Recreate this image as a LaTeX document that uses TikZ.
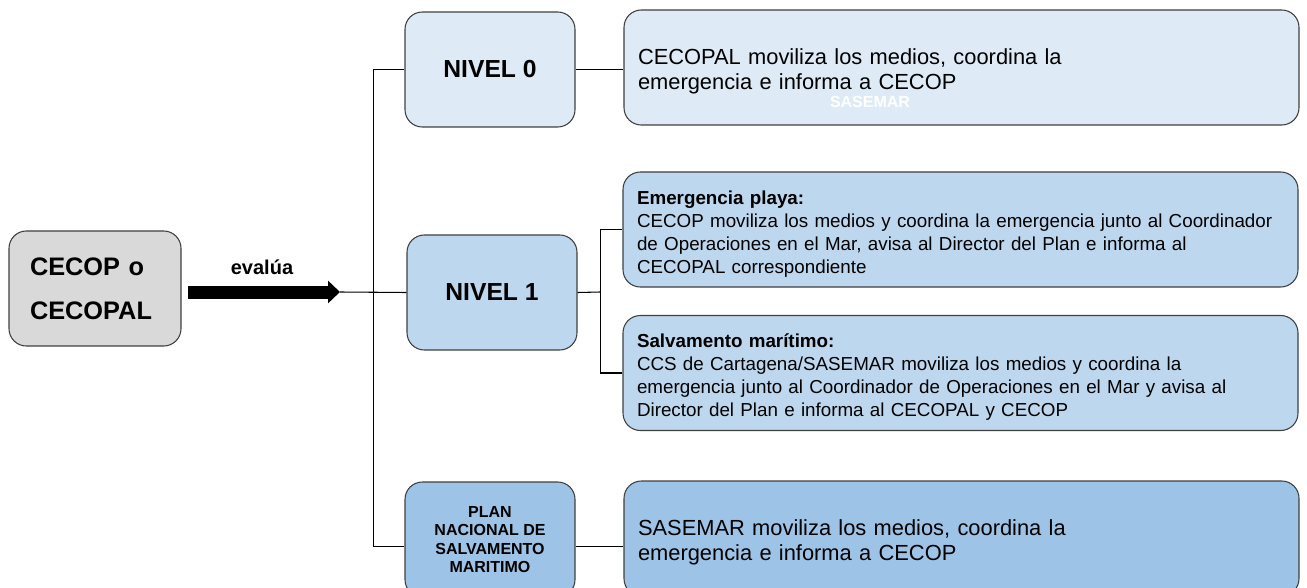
\documentclass[tikz,border=0pt]{standalone}
\usepackage{fontspec}
\setmainfont{Liberation Sans}
\usetikzlibrary{positioning, arrows.meta}
\definecolor{planlight}{HTML}{DEEBF7}
\definecolor{planmid}{HTML}{BDD7EE}
\definecolor{plandark}{HTML}{9DC3E6}
\definecolor{plangray}{HTML}{D9D9D9}
\definecolor{planedge}{HTML}{404040}

\begin{document}
\begin{tikzpicture}[x=0.75pt, y=-0.75pt,
        level/.style={rounded corners=13pt, draw=planedge, line width=0.8pt, minimum width=127.5pt, minimum height=86.25pt, align=center, font=\bfseries\fontsize{18.5}{21}\selectfont},
        info/.style={rounded corners=13pt, draw=planedge, line width=0.8pt, inner xsep=10.5pt, text width=485.25pt, minimum height=86.25pt, align=left, font=\fontsize{14.1}{17.25}\selectfont, execute at begin node={\rule{0pt}{17pt}}},
        bigtext/.style={font=\fontsize{16.4}{18.75}\selectfont},
        link/.style={draw=black, line width=0.8pt}
    ]
      \clip (0,0) rectangle (1307,588);
      % Who evaluates
      \node[level, fill=plangray, text width=97.5pt, inner xsep=15.75pt, align=left, font=\bfseries\fontsize{19}{33}\selectfont] (cecop) at (95,288.5)
           {CECOP o\\CECOPAL};
      \node[font=\bfseries\fontsize{15}{17}\selectfont] (evalua) at (262,267) {evalúa};
      \coordinate (tail) at (188,292);
      \coordinate (tip) at (340,292);
      \coordinate (fork) at (373.5,292);
      \coordinate (split) at (600.5,292);
      % Levels
      \node[level, fill=planlight] (nivel0) at (490,69.5) {NIVEL 0};
      \node[level, fill=planmid] (nivel1) at (492,292.5) {NIVEL 1};
      \node[level, fill=plandark, font=\bfseries\fontsize{12}{13.7}\selectfont] (plan) at (490,539.5)
           {PLAN\\NACIONAL DE\\SALVAMENTO\\MARITIMO};
      % What each level does
      \node[info, bigtext, fill=planlight] (accion0) at (961.5,67.5)
           {CECOPAL moviliza los medios, coordina la\\emergencia e informa a CECOP};
      \node[font=\bfseries\fontsize{12}{14}\selectfont, text=white] (ghost) at (870,102) {SASEMAR};
      \node[info, fill=planmid] (playa) at (960.5,229.5)
           {\textbf{Emergencia playa:}\\CECOP moviliza los medios y coordina la emergencia junto al Coordinador\\de Operaciones en el Mar, avisa al Director del Plan e informa al\\CECOPAL correspondiente};
      \node[info, fill=planmid] (salvamento) at (960.5,373)
           {\textbf{Salvamento marítimo:}\\CCS de Cartagena/SASEMAR moviliza los medios y coordina la\\emergencia junto al Coordinador de Operaciones en el Mar y avisa al\\Director del Plan e informa al CECOPAL y CECOP};
      \node[info, bigtext, fill=plandark] (accion2) at (961.5,538.5)
           {SASEMAR moviliza los medios, coordina la\\emergencia e informa a CECOP};
      % Connectors
      \draw[line width=9.75pt, -{Triangle[length=9pt, width=16.5pt]}] (tail) -- (tip);
      \draw[link] (tip) -- (nivel1.west);
      \draw[link] (nivel0.west) -| (fork) |- ([yshift=-5pt]plan.west);
      \draw[link] (nivel0.east) -- (nivel0.east -| accion0.west);
      \draw[link] (nivel1.east) -- (split);
      \draw[link] (playa.west) -| (split) |- (salvamento.west);
      \draw[link] ([yshift=-5pt]plan.east) -- ([yshift=-5pt]plan.east -| accion2.west);
    \end{tikzpicture}
\end{document}
